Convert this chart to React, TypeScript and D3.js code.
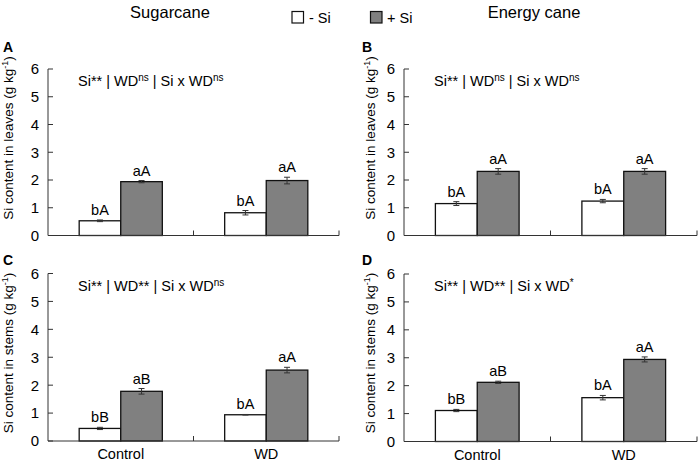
import React from "react";
import * as d3 from "d3";

const categories = ["Control", "WD"];
const seriesNames = ["- Si", "+ Si"];
const yTicks = [0, 1, 2, 3, 4, 5, 6];

// Panel A: sugarcane leaves
const aMinus = [0.53, 0.82];
const aPlus = [1.94, 1.98];
const aMinusErr = [0.03, 0.08];
const aPlusErr = [0.04, 0.12];
const aMinusLbl = ["bA", "bA"];
const aPlusLbl = ["aA", "aA"];

// Panel B: energy cane leaves
const bMinus = [1.15, 1.24];
const bPlus = [2.31, 2.31];
const bMinusErr = [0.07, 0.06];
const bPlusErr = [0.1, 0.1];
const bMinusLbl = ["bA", "bA"];
const bPlusLbl = ["aA", "aA"];

// Panel C: sugarcane stems
const cMinus = [0.45, 0.94];
const cPlus = [1.78, 2.54];
const cMinusErr = [0.04, 0.01];
const cPlusErr = [0.1, 0.1];
const cMinusLbl = ["bB", "bA"];
const cPlusLbl = ["aB", "aA"];

// Panel D: energy cane stems
const dMinus = [1.11, 1.57];
const dPlus = [2.12, 2.94];
const dMinusErr = [0.04, 0.08];
const dPlusErr = [0.04, 0.09];
const dMinusLbl = ["bB", "bA"];
const dPlusLbl = ["aB", "aA"];

type Part = [string, boolean];
const annA: Part[] = [["Si**", false], [" | WD", false], ["ns", true], [" | Si x WD", false], ["ns", true]];
const annB: Part[] = [["Si**", false], [" | WD", false], ["ns", true], [" | Si x WD", false], ["ns", true]];
const annC: Part[] = [["Si**", false], [" | WD**", false], [" | Si x WD", false], ["ns", true]];
const annD: Part[] = [["Si**", false], [" | WD**", false], [" | Si x WD", false], ["*", true]];

const FONT = "Arial, 'Liberation Sans', Helvetica, sans-serif";
const GRAY = "#808080";
const AXIS = "#333";

interface PanelProps {
  letter: string;
  letterX: number;
  letterY: number;
  x0: number;
  x1: number;
  yTop: number;
  yBot: number;
  titleX: number;
  titleY: number;
  yTitle: string;
  minus: number[];
  plus: number[];
  minusErr: number[];
  plusErr: number[];
  minusLbl: string[];
  plusLbl: string[];
  ann: Part[];
  showCats: boolean;
}

function Panel(p: PanelProps) {
  const y = d3.scaleLinear().domain([0, 6]).range([p.yBot, p.yTop]);
  const x = d3.scaleBand().domain(categories).range([p.x0, p.x1]).padding(0);
  const xs = d3
    .scaleBand()
    .domain(seriesNames)
    .range([0, x.bandwidth()])
    .paddingInner(0)
    .paddingOuter(0.75);
  const bars = categories.flatMap((c, i) => [
    { c, s: seriesNames[0], v: p.minus[i], e: p.minusErr[i], l: p.minusLbl[i], fill: "#fff" },
    { c, s: seriesNames[1], v: p.plus[i], e: p.plusErr[i], l: p.plusLbl[i], fill: GRAY },
  ]);
  return (
    <g>
      <text x={p.letterX} y={p.letterY} fontSize={14} fontWeight="bold" fontFamily={FONT}>
        {p.letter}
      </text>
      <text
        transform={`translate(${p.titleX},${p.titleY}) rotate(-90)`}
        textAnchor="middle"
        fontSize={13.5}
        fontFamily={FONT}
      >
        {p.yTitle} (g kg
        <tspan fontSize={9} dy={-5}>
          -1
        </tspan>
        <tspan dy={5}>)</tspan>
      </text>
      {bars.map((b, i) => {
        const bx = (x(b.c) as number) + (xs(b.s) as number);
        const bw = xs.bandwidth();
        const cx = bx + bw / 2;
        return (
          <g key={i}>
            <rect
              x={bx}
              y={y(b.v)}
              width={bw}
              height={y(0) - y(b.v)}
              fill={b.fill}
              stroke="#111"
              strokeWidth={1.3}
            />
            <g stroke="#333" strokeWidth={1}>
              <line x1={cx} x2={cx} y1={y(b.v - b.e)} y2={y(b.v + b.e)} />
              <line x1={cx - 3} x2={cx + 3} y1={y(b.v - b.e)} y2={y(b.v - b.e)} />
              <line x1={cx - 3} x2={cx + 3} y1={y(b.v + b.e)} y2={y(b.v + b.e)} />
            </g>
            <text x={cx} y={y(b.v + b.e) - 5} textAnchor="middle" fontSize={14.5} fontFamily={FONT}>
              {b.l}
            </text>
          </g>
        );
      })}
      {/* y axis */}
      <line x1={p.x0} x2={p.x0} y1={p.yTop} y2={p.yBot} stroke={AXIS} strokeWidth={1} />
      {yTicks.map((t) => (
        <g key={t}>
          <line x1={p.x0} x2={p.x0 + 5} y1={y(t)} y2={y(t)} stroke={AXIS} strokeWidth={1} />
          <text
            x={p.x0 - 9}
            y={y(t)}
            dy="0.36em"
            textAnchor="end"
            fontSize={15}
            fontFamily={FONT}
          >
            {t}
          </text>
        </g>
      ))}
      {/* x axis */}
      <line x1={p.x0} x2={p.x1} y1={p.yBot} y2={p.yBot} stroke={AXIS} strokeWidth={1} />
      {categories.map((c) => {
        const right = (x(c) as number) + x.bandwidth();
        return (
          <line key={c} x1={right} x2={right} y1={p.yBot} y2={p.yBot - 5} stroke={AXIS} strokeWidth={1} />
        );
      })}
      {p.showCats &&
        categories.map((c) => (
          <text
            key={c}
            x={(x(c) as number) + x.bandwidth() / 2}
            y={p.yBot + 18}
            textAnchor="middle"
            fontSize={14.5}
            fontFamily={FONT}
          >
            {c}
          </text>
        ))}
      <text x={p.x0 + 30} y={p.yTop + 17} fontSize={14.5} fontFamily={FONT}>
        {p.ann.map((pt, i) =>
          pt[1] ? (
            <tspan key={i} fontSize={10} dy={-5}>
              {pt[0]}
            </tspan>
          ) : (
            <tspan key={i} dy={i > 0 && p.ann[i - 1][1] ? 5 : 0}>
              {pt[0]}
            </tspan>
          )
        )}
      </text>
    </g>
  );
}

export default function App() {
  return (
    <svg
      width={700}
      height={462}
      style={{ position: "absolute", left: 0, top: 0, background: "#fff" }}
      fontFamily={FONT}
    >
      <rect width={700} height={462} fill="#fff" />
      <text x={170} y={18} textAnchor="middle" fontSize={16.5}>
        Sugarcane
      </text>
      <text x={534} y={18} textAnchor="middle" fontSize={16.5}>
        Energy cane
      </text>
      <rect x={292} y={11.5} width={11.5} height={11.5} fill="#fff" stroke="#111" strokeWidth={1.2} />
      <text x={309} y={22.5} fontSize={14.5}>
        {seriesNames[0]}
      </text>
      <rect x={370.5} y={11.5} width={11.5} height={11.5} fill={GRAY} stroke="#111" strokeWidth={1.2} />
      <text x={387} y={22.5} fontSize={14.5}>
        {seriesNames[1]}
      </text>
      <Panel
        letter="A" letterX={3} letterY={52}
        x0={48} x1={339} yTop={69} yBot={235.5} titleX={13} titleY={138}
        yTitle="Si content in leaves"
        minus={aMinus} plus={aPlus} minusErr={aMinusErr} plusErr={aPlusErr}
        minusLbl={aMinusLbl} plusLbl={aPlusLbl} ann={annA} showCats={false}
      />
      <Panel
        letter="B" letterX={362} letterY={52}
        x0={404} x1={697} yTop={69} yBot={235.5} titleX={375} titleY={138}
        yTitle="Si content in leaves"
        minus={bMinus} plus={bPlus} minusErr={bMinusErr} plusErr={bPlusErr}
        minusLbl={bMinusLbl} plusLbl={bPlusLbl} ann={annB} showCats={false}
      />
      <Panel
        letter="C" letterX={3} letterY={265}
        x0={48} x1={339} yTop={273.5} yBot={441} titleX={13} titleY={353}
        yTitle="Si content in stems"
        minus={cMinus} plus={cPlus} minusErr={cMinusErr} plusErr={cPlusErr}
        minusLbl={cMinusLbl} plusLbl={cPlusLbl} ann={annC} showCats={true}
      />
      <Panel
        letter="D" letterX={362} letterY={265}
        x0={404} x1={697} yTop={274} yBot={441.5} titleX={375} titleY={353}
        yTitle="Si content in stems"
        minus={dMinus} plus={dPlus} minusErr={dMinusErr} plusErr={dPlusErr}
        minusLbl={dMinusLbl} plusLbl={dPlusLbl} ann={annD} showCats={true}
      />
    </svg>
  );
}
